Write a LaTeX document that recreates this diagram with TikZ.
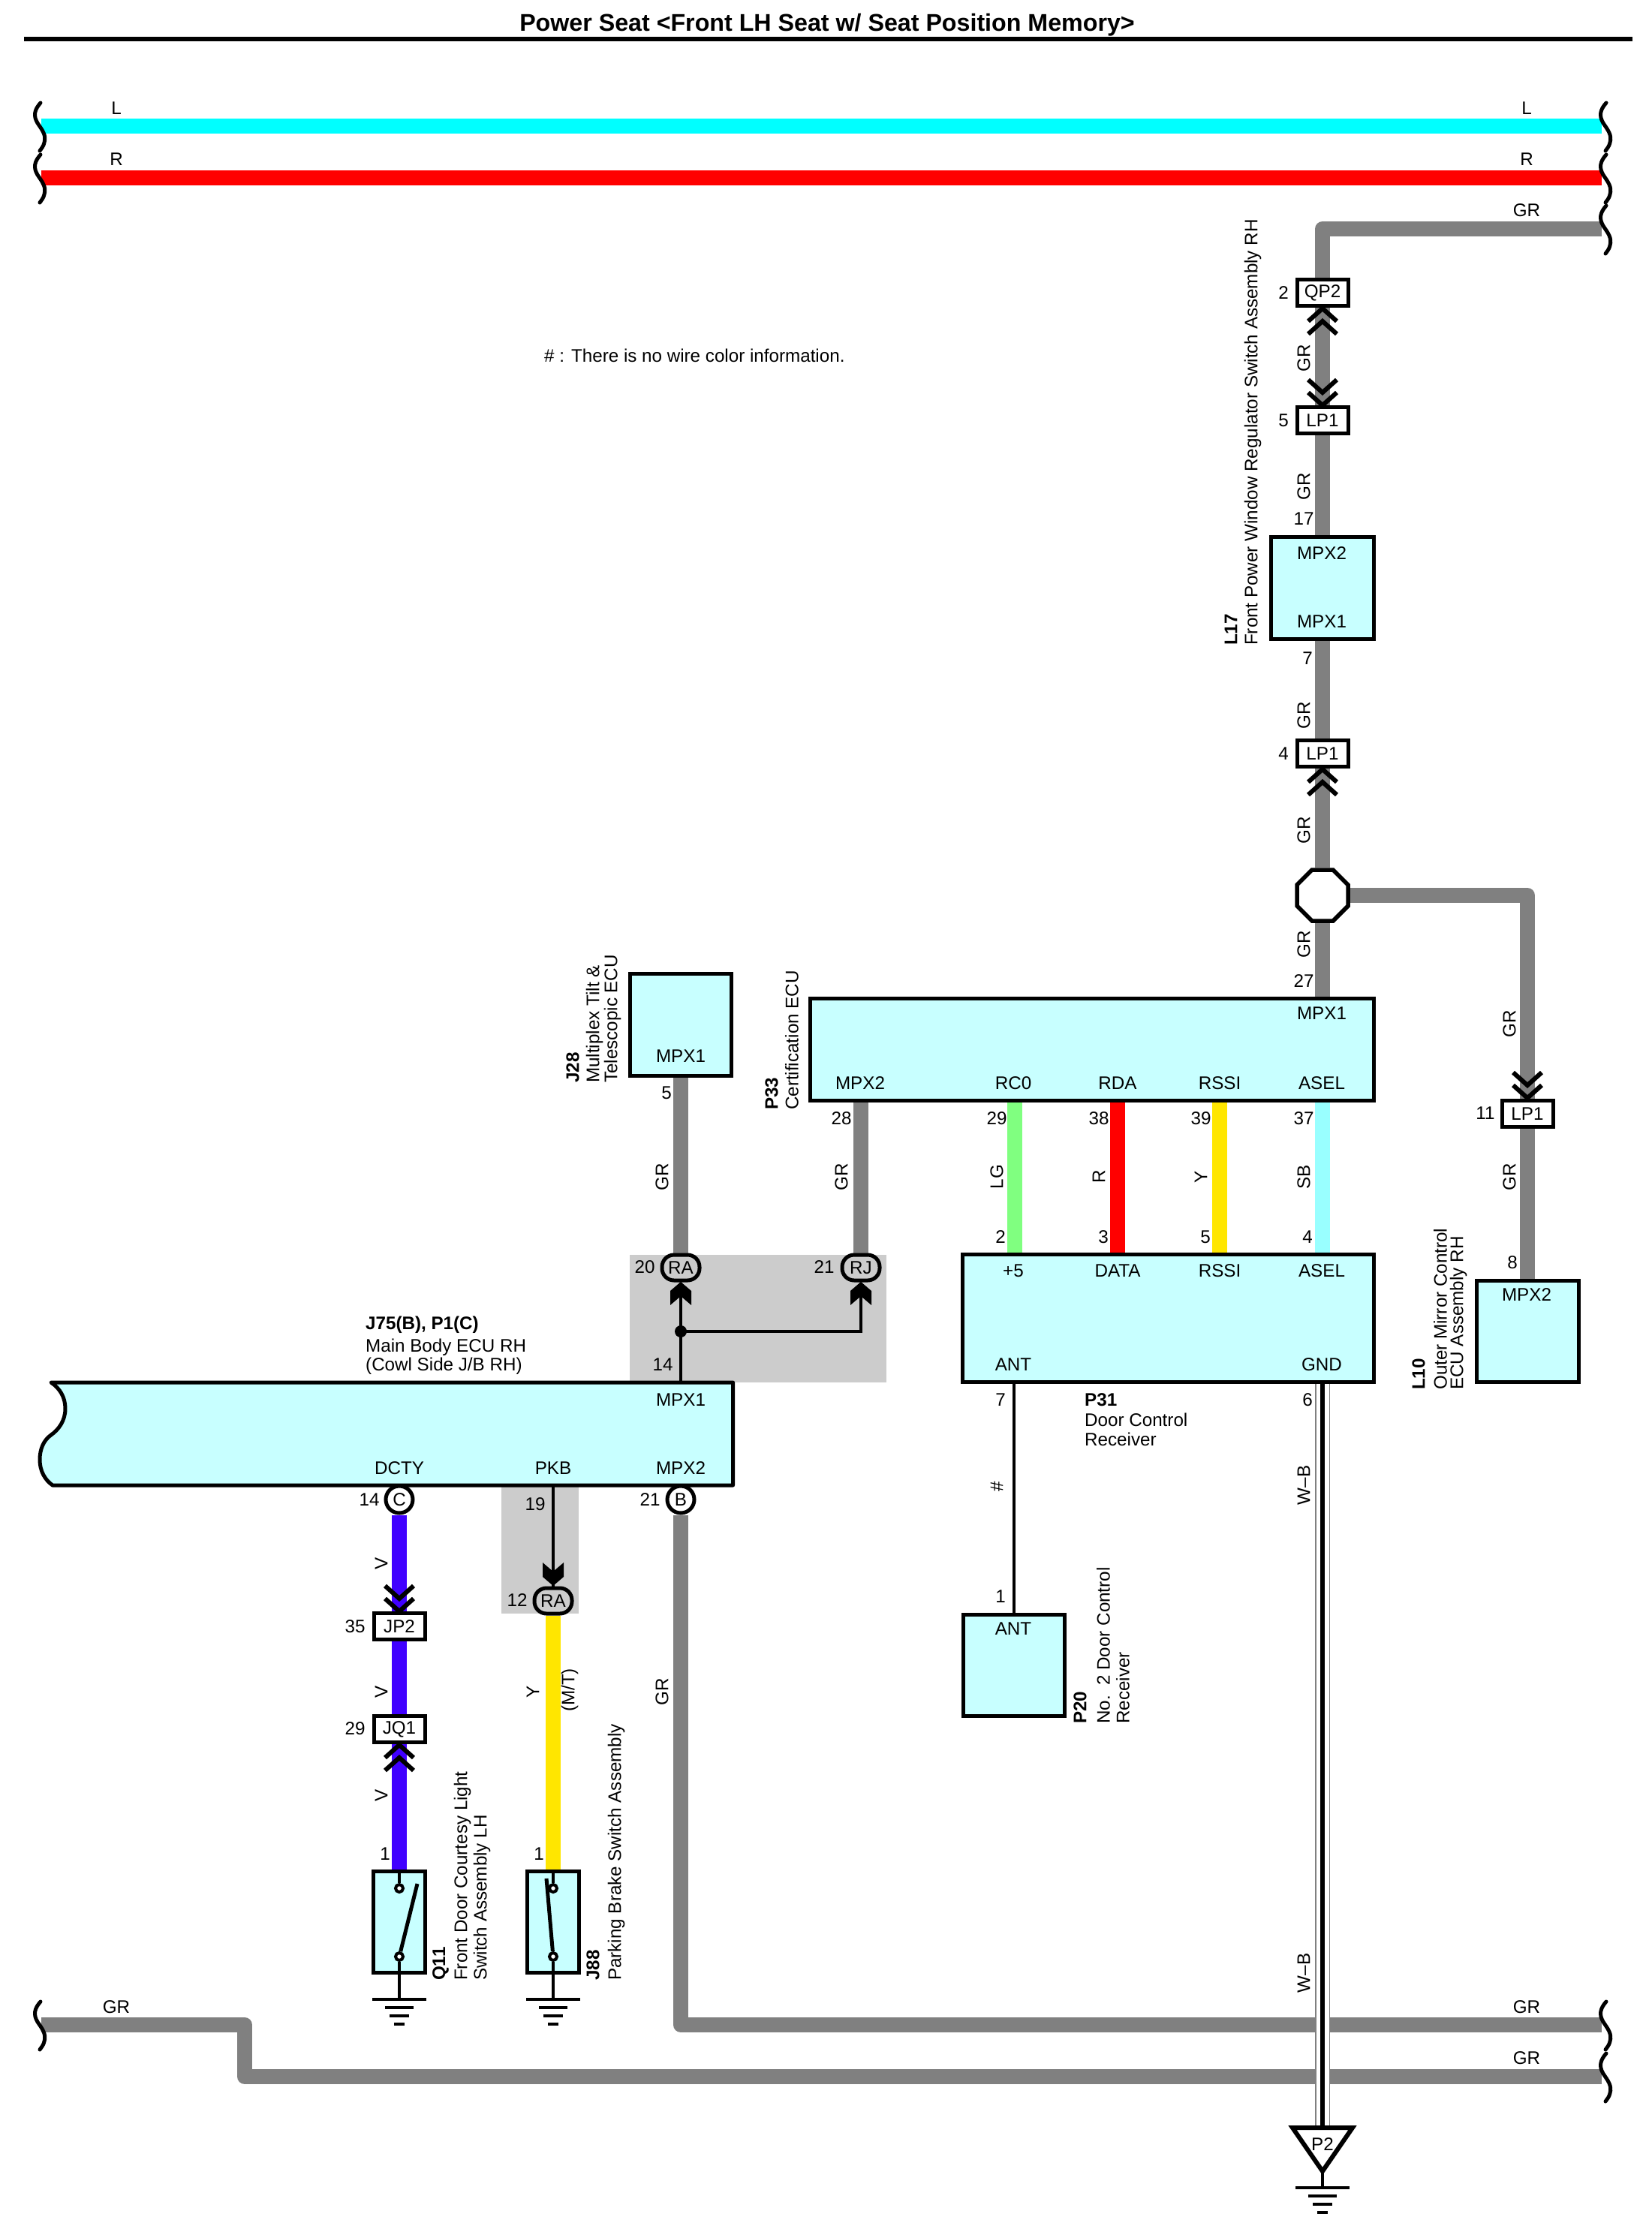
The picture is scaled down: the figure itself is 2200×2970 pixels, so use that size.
\documentclass[tikz,border=0pt]{standalone}
\usepackage{fontspec}
\setmainfont{Liberation Sans}
\usetikzlibrary{backgrounds,shapes.geometric}

\definecolor{boxcyan}{HTML}{C8FFFF}
\definecolor{wiregr}{HTML}{808080}
\definecolor{wirel}{HTML}{00FFFF}
\definecolor{wirer}{HTML}{FF0000}
\definecolor{wirelg}{HTML}{80FF80}
\definecolor{wirey}{HTML}{FFE600}
\definecolor{wiresb}{HTML}{99FFFF}
\definecolor{wirev}{HTML}{4000FF}
\definecolor{shadegray}{HTML}{CCCCCC}

\tikzset{
  txt/.style={font=\fontsize{24.2}{26}\selectfont,inner sep=0pt},
  bold/.style={font=\fontsize{24.2}{26}\selectfont\bfseries,inner sep=0pt},
  vert/.style={txt,rotate=90},
  vertname/.style={txt,rotate=90,anchor=west},
  vertbold/.style={bold,rotate=90,anchor=west},
  ecubox/.style={draw,line width=5pt,fill=boxcyan,inner sep=0pt},
  connbox/.style={txt,draw,line width=5pt,fill=white,inner sep=0pt,minimum width=68pt,minimum height=35pt},
  roundconn/.style={txt,draw,line width=5pt,fill=shadegray,rounded corners=16pt,inner sep=0pt,minimum width=50pt,minimum height=34pt},
  circconn/.style={txt,circle,draw,line width=5pt,fill=white,inner sep=0pt,minimum size=36pt},
  terminal/.style={circle,draw,line width=4pt,fill=white,inner sep=0pt,minimum size=10pt},
  wire/.style={line width=20pt,line join=round},
  thinwire/.style={line width=4.5pt},
  chev/.style={line width=6pt},
  tick/.style={line width=5pt,line cap=round}
}

% double chevron, tip at #1
\newcommand{\chevrons}[2]{\draw[chev,shift={(#1)},rotate=#2] (-19,17) -- (0,0) -- (19,17) (-19,34) -- (0,17) -- (19,34);}
% notched arrow head, tip at #1
\newcommand{\barbtip}[2]{\fill[shift={(#1)},rotate=#2] (0,0) -- (14,12) -- (14,31) -- (0,19) -- (-14,31) -- (-14,12) -- cycle;}
% earth symbol, top bar at #1
\newcommand{\earth}[1]{\draw[line width=4pt,shift={(#1)}] (-36,0) -- (36,0) (-19,11) -- (19,11) (-13,22) -- (13,22) (-7,33) -- (7,33);}
% wire break mark
\newcommand{\breakmark}[2]{\draw[tick,shift={(#1,#2)}] (1,-31) .. controls (-7,-22) and (-9,-14) .. (-3,-4) .. controls (3,5) and (9,12) .. (6,22) .. controls (5,27) and (2,30) .. (0,33);}

\begin{document}
\begin{tikzpicture}[x=1pt,y=-1pt]
  \useasboundingbox (0,0) rectangle (2200,2970);

  \node[bold,font=\fontsize{32.2}{34}\selectfont\bfseries] (title) at (1102,33) {Power Seat <Front LH Seat w/ Seat Position Memory>};
  \coordinate (ruleL) at (32,52);
  \coordinate (ruleR) at (2175,52);
  \draw[line width=5.5pt] (ruleL) -- (ruleR);
  \node[txt,anchor=west] (note) at (725,474) {\# : There is no wire color information.};

  % break marks
  \foreach \y in {168,237,2698} \breakmark{53}{\y};
  \foreach \y in {168,237,305,2698,2767} \breakmark{2139}{\y};
  \coordinate (LleftEnd) at (55,168);
  \coordinate (LrightEnd) at (2134,168);
  \coordinate (RleftEnd) at (55,237);
  \coordinate (RrightEnd) at (2134,237);
  \coordinate (GRtopEnd) at (2134,305);
  \coordinate (GRbotEnd) at (2134,2698);
  \coordinate (GRlowEnd) at (2134,2767);
  \coordinate (GRleftEnd) at (55,2698);
  \coordinate (GRstepA) at (326,2698);
  \coordinate (GRstepB) at (326,2767);

  % right hand column
  \node[connbox] (QP2) at (1762,390) {QP2};
  \node[connbox] (LP1a) at (1762,560) {LP1};
  \node[ecubox,minimum width=137pt,minimum height=136pt] (L17) at (1762,783.5) {};
  \node[connbox] (LP1b) at (1762,1004) {LP1};
  \node[regular polygon,regular polygon sides=8,draw,line width=5.5pt,fill=white,inner sep=0pt,minimum size=73.6pt] (joint) at (1762,1193) {};
  \node[connbox] (LP1c) at (2035,1484) {LP1};
  \node[ecubox,minimum width=136pt,minimum height=135pt] (L10) at (2035,1774) {};

  % ECUs
  \node[ecubox,minimum width=135pt,minimum height=136pt] (J28) at (907,1365) {};
  \node[ecubox,minimum width=751pt,minimum height=136pt] (P33) at (1454.5,1398) {};
  \node[ecubox,minimum width=548pt,minimum height=170pt] (P31) at (1556,1756.5) {};
  \node[ecubox,minimum width=135pt,minimum height=135pt] (P20) at (1351,2219) {};
  \draw[line width=5pt,fill=boxcyan,line join=round] (68,1842) .. controls (80,1850) and (87,1862) .. (87,1877) .. controls (87,1893) and (78,1905) .. (68,1912) .. controls (58,1919) and (53,1931) .. (53,1945) .. controls (53,1960) and (60,1972) .. (70,1979) -- (976.5,1979) -- (976.5,1842) -- cycle;
  \coordinate (J75mpx) at (907,1842);
  \coordinate (J75pkb) at (737,1979);

  % connectors at the ECUs
  \node[roundconn] (RAa) at (907,1689) {RA};
  \node[roundconn] (RJ) at (1147,1689) {RJ};
  \node[roundconn] (RAb) at (737,2133) {RA};
  \node[circconn] (C) at (532,1998) {C};
  \node[circconn] (B) at (907,1998) {B};
  \node[connbox] (JP2) at (532,2167) {JP2};
  \node[connbox] (JQ1) at (532,2304) {JQ1};
  \coordinate (P2top) at (1762,2835);
  \coordinate (P2apex) at (1762,2893);
  \coordinate (P2earth) at (1762,2915);
  \coordinate (dot) at (907,1774);

  % switches
  \node[ecubox,minimum width=69pt,minimum height=135pt] (Q11) at (532,2561) {};
  \node[ecubox,minimum width=69pt,minimum height=135pt] (J88) at (737,2561) {};
  \node[terminal] (Q11a) at (532,2516) {};
  \node[terminal] (Q11b) at (532,2607) {};
  \node[terminal] (J88a) at (737,2516) {};
  \node[terminal] (J88b) at (737,2607) {};
  \coordinate (Q11tip) at (556,2510);
  \coordinate (J88tip) at (728,2503);
  \coordinate (Q11earth) at (532,2664);
  \coordinate (J88earth) at (737,2664);
  \draw[line width=4.5pt] (Q11.north) -- (Q11a) (Q11b) -- (Q11earth);
  \draw[line width=4.5pt] (J88.north) -- (J88a) (J88b) -- (J88earth);
  \draw[line width=5pt] (Q11b) -- (Q11tip);
  \draw[line width=5pt] (J88b) -- (J88tip);
  \earth{Q11earth}
  \earth{J88earth}
  \earth{P2earth}

  % wires go under the boxes
  \begin{scope}[on background layer]
    \fill[shadegray] (839,1672) rectangle (1181,1842);
    \fill[shadegray] (668,1979) rectangle (771,2150);
    \draw[wire,wirel] (LleftEnd) -- (LrightEnd);
    \draw[wire,wirer] (RleftEnd) -- (RrightEnd);
    \draw[wire,wiregr] (GRtopEnd) -| (QP2.north);
    \draw[wire,wiregr] (QP2.south) -- (LP1a.north);
    \draw[wire,wiregr] (LP1a.south) -- (L17.north -| LP1a.south);
    \draw[wire,wiregr] (L17.south -| LP1b.north) -- (LP1b.north);
    \draw[wire,wiregr] (LP1b.south) -- (joint.north);
    \draw[wire,wiregr] (joint.south) -- (P33.north -| joint.south);
    \draw[wire,wiregr] (joint.center) -| (LP1c.north);
    \draw[wire,wiregr] (LP1c.south) -- (L10.north);
    \draw[wire,wiregr] (J28.south) -- (RAa.north);
    \draw[wire,wiregr] (P33.south -| RJ.north) -- (RJ.north);
    \draw[wire,wirelg] (1352,1466) -- (1352,1672);
    \draw[wire,wirer] (1489,1466) -- (1489,1672);
    \draw[wire,wirey] (1625,1466) -- (1625,1672);
    \draw[wire,wiresb] (1762,1466) -- (1762,1672);
    \draw[wire,wirev] (C.south) -- (JP2.north);
    \draw[wire,wirev] (JP2.south) -- (JQ1.north);
    \draw[wire,wirev] (JQ1.south) -- (Q11.north);
    \draw[wire,wirey] (RAb.south) -- (J88.north);
    \draw[wire,wiregr,line join=round] (B.south) |- (GRbotEnd);
    \draw[wire,wiregr] (GRleftEnd) -- (GRstepA) -- (GRstepB) -- (GRlowEnd);
    \draw[thinwire] (J75mpx) -- (RAa.south);
    \draw[line width=3.5pt] (dot) -| (RJ.south);
    \draw[thinwire] (J75pkb) -- (RAb.north);
    \draw[thinwire] (P31.south -| P20.north) -- (P20.north);
    % striped wire
    \draw[line width=20pt,wiregr] (P31.south -| P2top) -- (P2top);
    \draw[line width=17pt,white] (P31.south -| P2top) -- (P2top);
    \draw[line width=6pt] (P31.south -| P2top) -- (P2top);
  \end{scope}

  \fill (dot) circle (8);
  \draw[line width=6pt,fill=white,line join=miter] (1722,2835) -- (1802,2835) -- (P2apex) -- cycle;
  \node[txt] (P2) at (1762,2857) {P2};
  \draw[line width=4.5pt] (P2apex) -- (P2earth);

  \chevrons{1762,411}{0}
  \chevrons{1762,540}{180}
  \chevrons{1762,1025}{0}
  \chevrons{2035,1463}{180}
  \chevrons{532,2147}{180}
  \chevrons{532,2325}{0}
  \barbtip{907,1708}{0}
  \barbtip{1147,1708}{0}
  \barbtip{737,2113}{180}

  % horizontal wire labels
  \foreach \nm/\x/\y/\txt in {a/155/144/L,b/155/212/R,c/2034/144/L,d/2034/212/R,e/2034/280/GR,f/155/2674/GR,g/2034/2674/GR,h/2034/2742/GR}
    \node[txt] (lbl\nm) at (\x,\y) {\txt};

  % pin numbers
  \foreach \nm/\x/\y/\txt in {a/1710/390/2,b/1710/560/5,c/1737/691/17,d/1742/877/7,e/1710/1004/4,f/1737/1307/27,g/1979/1483/11,h/2015/1682/8,i/1121/1490/28,j/1328/1490/29,k/1464/1490/38,l/1600/1490/39,m/1737/1490/37,n/1333/1648/2,o/1470/1648/3,p/1606/1648/5,q/1742/1648/4,r/888/1456/5,s/859/1688/20,t/1098/1688/21,u/883/1818/14,v/1333/1865/7,w/1742/1865/6,x/1333/2127/1,y/492/1998/14,z/866/1998/21,A/713/2004/19,C/689/2132/12,D/473/2167/35,E/473/2303/29,F/513/2470/1,G/718/2470/1}
    \node[txt] (pin\nm) at (\x,\y) {\txt};

  % terminal names inside the boxes
  \foreach \nm/\x/\y/\txt in {a/1761/737/MPX2,b/1761/828/MPX1,c/1761/1350/MPX1,d/1146/1443/MPX2,e/1350/1443/RC0,f/1489/1443/RDA,g/1625/1443/RSSI,h/1761/1443/ASEL,i/1350/1693/+5,j/1489/1693/DATA,k/1625/1693/RSSI,l/1761/1693/ASEL,m/1350/1818/ANT,n/1761/1818/GND,o/1350/2170/ANT,p/2034/1725/MPX2,q/907/1407/MPX1,r/907/1865/MPX1,s/532/1956/DCTY,t/737/1956/PKB,u/907/1956/MPX2}
    \node[txt] (term\nm) at (\x,\y) {\txt};

  % wire colours along the wires
  \foreach \nm/\x/\y/\txt in {a/1737/477/GR,b/1737/648/GR,c/1737/953/GR,d/1737/1106/GR,e/1737/1258/GR,f/2011/1364/GR,g/2011/1568/GR,h/882/1568/GR,i/1121/1568/GR,j/1328/1568/LG,k/1464/1568/R,l/1600/1568/Y,m/1737/1568/SB,n/1328/1981/\#,o/1737/1979/W--B,p/1737/2629/W--B,q/508/2083/V,r/508/2254/V,s/508/2392/V,t/710/2254/Y,v/882/2254/GR}
    \node[vert] (col\nm) at (\x,\y) {\txt};
  \node[vert] (colMT) at (759,2252) {(M/T)};

  % part names
  \node[vertbold] (nameL17) at (1640,860) {L17};
  \node[vertname] (textL17) at (1669,860) {Front Power Window Regulator Switch Assembly RH};
  \node[vertbold] (nameJ28) at (763,1443) {J28};
  \node[vertname] (textJ28a) at (792,1443) {Multiplex Tilt \&};
  \node[vertname] (textJ28b) at (816,1443) {Telescopic ECU};
  \node[vertbold] (nameP33) at (1028,1479) {P33};
  \node[vertname] (textP33) at (1055,1479) {Certification ECU};
  \node[vertbold] (nameL10) at (1890,1852) {L10};
  \node[vertname] (textL10a) at (1919,1852) {Outer Mirror Control};
  \node[vertname] (textL10b) at (1943,1852) {ECU Assembly RH};
  \node[vertbold] (nameP20) at (1439,2297) {P20};
  \node[vertname] (textP20a) at (1470,2297) {No.\ \ 2 Door Control};
  \node[vertname] (textP20b) at (1496,2297) {Receiver};
  \node[vertbold] (nameQ11) at (587,2639) {Q11};
  \node[vertname] (textQ11a) at (616,2639) {Front Door Courtesy Light};
  \node[vertname] (textQ11b) at (642,2639) {Switch Assembly LH};
  \node[vertbold] (nameJ88) at (790,2639) {J88};
  \node[vertname] (textJ88) at (821,2639) {Parking Brake Switch Assembly};
  \node[bold,anchor=west] (nameJ75) at (487,1765) {J75(B), P1(C)};
  \node[txt,anchor=west] (textJ75a) at (487,1795) {Main Body ECU RH};
  \node[txt,anchor=west] (textJ75b) at (487,1820) {(Cowl Side J/B RH)};
  \node[bold,anchor=west] (nameP31) at (1445,1865) {P31};
  \node[txt,anchor=west] (textP31a) at (1445,1892) {Door Control};
  \node[txt,anchor=west] (textP31b) at (1445,1918) {Receiver};
\end{tikzpicture}
\end{document}
